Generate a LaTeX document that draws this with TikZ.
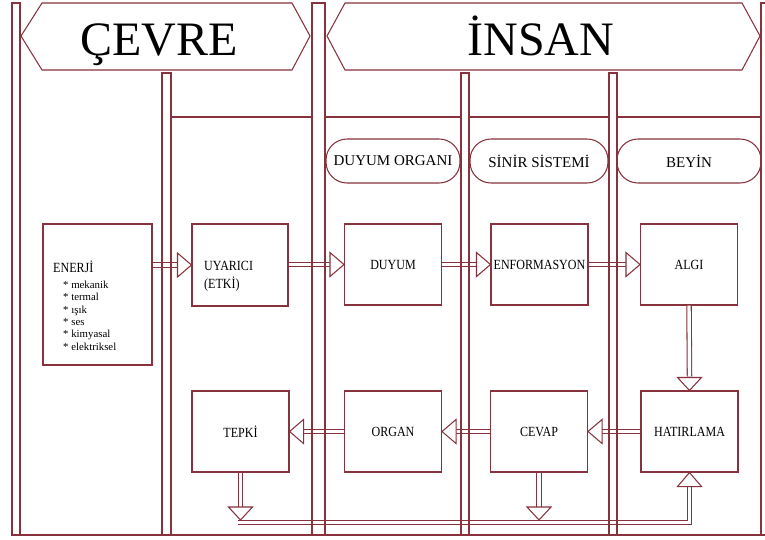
\documentclass[tikz,border=0pt]{standalone}
\usepackage{fontspec}
\setmainfont{Liberation Serif}
\newfontfamily\boxfont[FakeStretch=0.86]{Liberation Serif}
\definecolor{ln}{RGB}{135,50,60}
\begin{document}
\begin{tikzpicture}[x=1pt,y=-1pt,
  lnst/.style={draw=ln, line width=1.05pt},
  hdr/.style={lnst, fill=white, line join=miter},
  box/.style={lnst, fill=white, minimum width=97pt, minimum height=81pt, inner sep=0pt,
    font=\boxfont\fontsize{14}{16}\selectfont},
  pill/.style={lnst, rounded corners=21pt, minimum height=44pt, inner sep=0pt,
    font=\fontsize{15}{17}\selectfont},
  shaft/.style={draw=ln, line width=1.05pt, double=white, double distance=3.4pt},
  headst/.style={draw=ln, fill=white, line width=1.05pt, line join=miter},
  headR/.pic={\path[headst] (0,0) -- (-14,-12) -- (-14,12) -- cycle;},
  headL/.pic={\path[headst] (0,0) -- (14,-12) -- (14,12) -- cycle;},
  headD/.pic={\path[headst] (0,0) -- (-12,-13) -- (12,-13) -- cycle;},
  headU/.pic={\path[headst] (0,0) -- (-12,14) -- (12,14) -- cycle;}
]
\useasboundingbox (0,0) rectangle (765,539);
\clip (0,0) rectangle (765,539);
\fill[white] (0,0) rectangle (765,539);

% headers
\draw[hdr] (21,36) -- (42,3) -- (292,3) -- (310,36) -- (292,70) -- (42,70) -- cycle;
\node[anchor=base, inner sep=0pt, font=\fontsize{48}{48}\selectfont] (cevre) at (159,55) {ÇEVRE};
\draw[hdr] (327,36) -- (345,3) -- (742,3) -- (760,36) -- (742,70) -- (345,70) -- cycle;
\node[anchor=base, inner sep=0pt, font=\fontsize{48}{48}\selectfont] (insan) at (541,55) {İNSAN};

% horizontal line
\draw[lnst] (171,117) -- (312,117);
\draw[lnst] (325,117) -- (461,117);
\draw[lnst] (469,117) -- (609,117);
\draw[lnst] (617,117) -- (761,117);

% pills
\node[pill, minimum width=134pt] (duyumorg) at (393,161) {DUYUM ORGANI};
\node[pill, minimum width=138pt] (sinir) at (539,161) {SİNİR SİSTEMİ};
\node[pill, minimum width=144pt] (beyin) at (689,161) {BEYİN};

% boxes
\node[box, minimum width=109pt, minimum height=141pt] (enerji) at (97.5,294.5) {};
\node[anchor=base west, inner sep=0pt, font=\boxfont\fontsize{14}{16}\selectfont] (enerjitxt) at (53,272) {ENERJİ};
\node[anchor=base west, inner sep=0pt, align=left, font=\fontsize{10.8}{12.3}\selectfont] (enerjilist) at (63,350)
  {* mekanik\\* termal\\* ışık\\* ses\\* kimyasal\\* elektriksel};
\node[box, minimum width=96pt, minimum height=82pt] (uyarici) at (240,265) {};
\node[anchor=base west, inner sep=0pt, align=left, font=\boxfont\fontsize{14}{18}\selectfont] (uyaricitxt) at (204,288) {UYARICI\\(ETKİ)};
\node[box] (duyum) at (393,264.5) {DUYUM};
\node[box] (enform) at (539.5,264.5) {ENFORMASYON};
\node[box] (algi) at (689,264.5) {ALGI};
\node[box] (tepki) at (240.5,431.5) {TEPKİ};
\node[box] (organ) at (393,431.5) {ORGAN};
\node[box] (cevap) at (539,431.5) {CEVAP};
\node[box] (hatir) at (689.5,431.5) {HATIRLAMA};

\coordinate (bustop) at (0,520);
\coordinate (busmid) at (0,522.5);
\coordinate (tepkitip) at (tepki.south |- bustop);
\coordinate (cevaptip) at (cevap.south |- bustop);

% shafts
\draw[shaft] (enerji.east |- uyarici.west) -- ([xshift=-14pt]uyarici.west);
\draw[shaft] (uyarici.east |- duyum.west) -- ([xshift=-14pt]duyum.west);
\draw[shaft] (duyum.east) -- ([xshift=-14pt]enform.west);
\draw[shaft] (enform.east) -- ([xshift=-14pt]algi.west);
\draw[shaft] (algi.south) -- ([yshift=14pt]hatir.north);
\draw[shaft] (hatir.west) -- ([xshift=14pt]cevap.east);
\draw[shaft] (cevap.west) -- ([xshift=14pt]organ.east);
\draw[shaft] (organ.west) -- ([xshift=14pt]tepki.east);
\draw[shaft] (tepki.south) -- ([yshift=13pt]tepkitip);
\draw[shaft] (cevap.south) -- ([yshift=13pt]cevaptip);
\draw[shaft] ([xshift=-2.5pt]tepki.south |- busmid) -| ([yshift=-14pt]hatir.south);

% bars
\draw[lnst] (12,3) rectangle (20,535);
\draw[lnst] (312,3) rectangle (325,535);
\draw[lnst] (162,73) rectangle (171,535);
\draw[lnst] (461,73) rectangle (469,535);
\draw[lnst] (609,73) rectangle (617,535);
\draw[lnst] (761,3) rectangle (775,535);
\draw[lnst] (12,535) -- (765,535);

% heads
\pic at (uyarici.west) {headR};
\pic at (duyum.west) {headR};
\pic at (enform.west) {headR};
\pic at (algi.west) {headR};
\pic at (hatir.north) {headD};
\pic at (cevap.east) {headL};
\pic at (organ.east) {headL};
\pic at (tepki.east) {headL};
\pic at (tepkitip) {headD};
\pic at (cevaptip) {headD};
\pic at (hatir.south) {headU};
\end{tikzpicture}
\end{document}
